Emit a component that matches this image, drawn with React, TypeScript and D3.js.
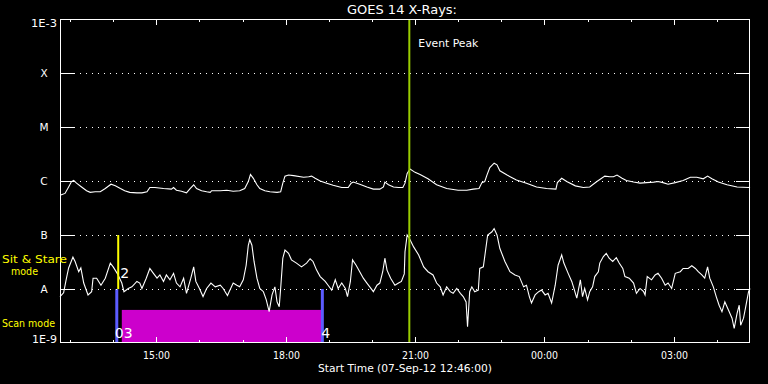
import React from 'react';
import * as d3 from 'd3';

// ---- data ----
const START_UTC = Date.UTC(2012, 8, 7, 12, 46);
const SPAN_MINUTES = 960;

const classLabels = ['1E-3', 'X', 'M', 'C', 'B', 'A', '1E-9'];
const classFlux = [1e-3, 1e-4, 1e-5, 1e-6, 1e-7, 1e-8, 1e-9];

// long channel (1-8 A), minutes since start, log10 flux
const longTimes = [1, 7, 12, 16, 19, 23, 30, 37, 42, 49, 56, 63, 71, 77, 84, 90, 97, 107, 114, 121, 125, 132, 144, 155, 158, 162, 169, 176, 181, 186, 190, 197, 204, 209, 211, 223, 232, 241, 250, 257, 262, 265, 269, 274, 278, 285, 292, 302, 307, 310, 313, 318, 325, 339, 346, 350, 355, 362, 371, 380, 392, 401, 405, 408, 417, 427, 436, 445, 450, 452, 457, 464, 471, 477, 480, 483, 487, 494, 501, 512, 524, 538, 554, 566, 575, 583, 587, 591, 594, 598, 604, 608, 612, 622, 635, 649, 663, 677, 690, 692, 698, 705, 717, 728, 737, 747, 758, 765, 770, 775, 782, 788, 798, 807, 816, 826, 832, 839, 846, 856, 867, 877, 886, 895, 901, 907, 916, 928, 942, 958, 960];
const longLogFlux = [-6.26, -6.23, -6.11, -6.01, -5.99, -6.04, -6.11, -6.18, -6.21, -6.2, -6.2, -6.14, -6.06, -6.09, -6.14, -6.18, -6.21, -6.22, -6.22, -6.2, -6.12, -6.12, -6.14, -6.15, -6.12, -6.17, -6.19, -6.22, -6.14, -6.07, -6.14, -6.18, -6.2, -6.21, -6.18, -6.18, -6.17, -6.19, -6.18, -6.14, -6.01, -5.88, -5.95, -6.07, -6.14, -6.18, -6.2, -6.21, -6.2, -6.04, -5.91, -5.89, -5.9, -5.93, -5.92, -5.91, -5.95, -6.0, -6.04, -6.08, -6.12, -6.12, -6.04, -6.02, -6.06, -6.11, -6.15, -6.15, -6.11, -6.02, -6.07, -6.11, -6.12, -6.12, -6.04, -5.86, -5.78, -5.84, -5.88, -5.96, -6.07, -6.14, -6.17, -6.17, -6.15, -6.14, -6.03, -6.01, -5.89, -5.75, -5.67, -5.7, -5.81, -5.89, -5.98, -6.04, -6.11, -6.14, -6.15, -6.03, -5.95, -6.01, -6.09, -6.12, -6.11, -6.01, -5.91, -5.92, -5.92, -5.89, -5.95, -5.99, -6.02, -6.04, -6.03, -6.02, -6.01, -6.03, -6.06, -6.03, -5.99, -5.93, -5.93, -5.96, -5.91, -5.96, -6.02, -6.07, -6.11, -6.12, -6.11];

// short channel (0.5-4 A), minutes since start, log10 flux
const shortTimes = [0, 5, 9, 12, 18, 21, 26, 29, 33, 39, 44, 46, 51, 57, 63, 70, 74, 80, 86, 89, 95, 100, 107, 111, 114, 120, 125, 130, 135, 139, 144, 148, 153, 158, 162, 167, 172, 176, 182, 186, 189, 194, 199, 204, 210, 216, 223, 227, 233, 235, 241, 246, 250, 255, 259, 262, 264, 267, 270, 274, 278, 283, 287, 291, 295, 299, 302, 305, 307, 310, 313, 318, 322, 329, 336, 343, 348, 352, 357, 362, 369, 373, 378, 383, 387, 392, 397, 400, 404, 407, 412, 417, 422, 427, 431, 436, 441, 445, 449, 452, 455, 460, 466, 471, 475, 479, 480, 483, 486, 492, 499, 506, 512, 519, 524, 529, 533, 538, 543, 547, 552, 557, 561, 565, 567, 570, 573, 577, 582, 584, 589, 595, 601, 604, 608, 612, 619, 626, 633, 639, 645, 649, 653, 656, 661, 666, 670, 675, 679, 684, 689, 693, 698, 701, 707, 712, 715, 719, 724, 727, 730, 734, 737, 741, 744, 749, 751, 756, 760, 764, 769, 774, 778, 783, 786, 792, 798, 802, 807, 812, 814, 817, 823, 828, 832, 837, 842, 846, 851, 856, 863, 867, 874, 879, 884, 888, 893, 897, 901, 904, 909, 913, 917, 921, 925, 930, 935, 938, 942, 945, 947, 951, 954, 958, 960];
const shortLogFlux = [-8.14, -8.07, -7.8, -7.61, -7.41, -7.49, -7.68, -7.61, -7.89, -8.11, -8.05, -7.8, -7.8, -7.93, -7.8, -7.52, -7.59, -7.72, -7.89, -8.05, -7.99, -7.96, -7.86, -7.89, -7.99, -7.8, -7.62, -7.71, -7.8, -7.74, -7.86, -7.74, -7.83, -7.71, -7.89, -7.96, -7.8, -8.08, -7.8, -7.59, -7.86, -7.99, -8.14, -7.99, -7.89, -7.96, -7.93, -7.99, -8.12, -8.06, -7.89, -7.93, -7.96, -7.83, -7.56, -7.19, -7.09, -7.19, -7.49, -7.8, -7.99, -8.05, -8.2, -8.42, -8.11, -7.96, -8.24, -8.33, -7.99, -7.43, -7.28, -7.34, -7.46, -7.52, -7.59, -7.52, -7.44, -7.49, -7.65, -7.77, -7.86, -7.93, -8.02, -7.83, -7.99, -7.89, -7.99, -8.14, -7.86, -7.46, -7.56, -7.68, -7.8, -7.89, -7.96, -8.05, -7.93, -7.89, -7.68, -7.43, -7.65, -7.8, -7.93, -7.89, -7.86, -7.72, -7.31, -7.0, -7.06, -7.22, -7.37, -7.59, -7.68, -7.74, -7.89, -7.96, -8.11, -7.96, -8.05, -8.08, -7.99, -8.08, -8.14, -8.24, -8.7, -8.05, -7.96, -8.05, -8.02, -7.62, -7.59, -7.0, -6.94, -6.88, -7.0, -7.25, -7.49, -7.68, -7.74, -7.77, -7.96, -7.93, -8.14, -8.26, -8.11, -8.05, -8.02, -8.11, -8.08, -8.26, -7.93, -7.56, -7.37, -7.52, -7.71, -7.86, -7.99, -8.17, -7.83, -8.14, -7.99, -8.2, -8.05, -7.96, -7.77, -7.68, -7.52, -7.4, -7.34, -7.43, -7.49, -7.42, -7.52, -7.62, -7.77, -7.8, -7.89, -8.08, -7.99, -8.05, -8.11, -7.77, -7.83, -7.74, -7.71, -7.8, -7.93, -7.89, -7.99, -7.71, -7.68, -7.62, -7.62, -7.57, -7.62, -7.68, -7.74, -7.8, -7.59, -7.8, -7.96, -8.14, -8.3, -8.42, -8.24, -8.39, -8.54, -8.73, -8.45, -8.3, -8.67, -8.54, -8.33, -8.05, -7.99];

// annotation times (minutes since start)
const eventPeakMinute = 486;
const sitStareMinute = 81;
const scanLineMinutes = [79, 365];
const scanFillMinutes = [86, 364];
const scanFillTopFlux = 4.1e-9;
const scanLabels = ['03', '4'];

// ---- layout ----
const W = 768;
const H = 384;
const L = 60;
const R = 750;
const T = 19;
const B = 343;
const FONT = 'DejaVu Sans, sans-serif';

const toDate = (m: number) => new Date(START_UTC + m * 60000);

export default function App() {
  const x = d3.scaleUtc().domain([toDate(0), toDate(SPAN_MINUTES)]).range([L, R]);
  const y = d3.scaleLog().domain([1e-9, 1e-3]).range([B, T]);

  const longData = longTimes.map((t, i) => ({ t: toDate(t), v: Math.pow(10, longLogFlux[i]) }));
  const shortData = shortTimes.map((t, i) => ({ t: toDate(t), v: Math.pow(10, shortLogFlux[i]) }));
  const line = d3
    .line<{ t: Date; v: number }>()
    .x((d) => x(d.t))
    .y((d) => y(d.v));

  const hourTicks = x.ticks(d3.utcHour.every(1) as any);
  const fmt = d3.utcFormat('%H:%M');

  const gridFlux = classFlux.slice(1, -1);
  const fit = { lengthAdjust: 'spacingAndGlyphs' as const };

  return (
    <svg width={W} height={H} style={{ position: 'fixed', left: 0, top: 0, display: 'block' }}>
      <rect x={0} y={0} width={W} height={H} fill="#000" />
      <text x={347} y={14} fill="#fff" fontFamily={FONT} fontSize={12} textLength={110} {...fit}>
        GOES 14 X-Rays:
      </text>

      {/* scan mode fill */}
      <rect
        x={x(toDate(scanFillMinutes[0]))}
        y={y(scanFillTopFlux)}
        width={x(toDate(scanFillMinutes[1])) - x(toDate(scanFillMinutes[0]))}
        height={B - y(scanFillTopFlux)}
        fill="#cc00cc"
      />
      {scanLineMinutes.map((m, i) => (
        <line key={'sl' + i} x1={x(toDate(m))} x2={x(toDate(m))} y1={y(1e-8)} y2={B} stroke="#5c5cff" strokeWidth={3} />
      ))}

      {/* grid lines */}
      {gridFlux.map((f, i) => (
        <g key={'g' + i}>
          <line x1={L + 14} x2={R - 14} y1={y(f) + 0.5} y2={y(f) + 0.5} stroke="#fff" strokeWidth={1} strokeDasharray="1,5" />
          <line x1={L} x2={L + 14} y1={y(f) + 0.5} y2={y(f) + 0.5} stroke="#fff" strokeWidth={1} />
          <line x1={R - 14} x2={R} y1={y(f) + 0.5} y2={y(f) + 0.5} stroke="#fff" strokeWidth={1} />
        </g>
      ))}

      {/* curves */}
      <path d={line(longData) || ''} fill="none" stroke="#fff" strokeWidth={1.1} />
      <path d={line(shortData) || ''} fill="none" stroke="#fff" strokeWidth={1.1} />

      {/* sit & stare line */}
      <line x1={x(toDate(sitStareMinute))} x2={x(toDate(sitStareMinute))} y1={y(1e-7)} y2={y(1e-8)} stroke="#ffff00" strokeWidth={2} />
      {/* event peak */}
      <line x1={x(toDate(eventPeakMinute))} x2={x(toDate(eventPeakMinute))} y1={T} y2={B} stroke="#99cc00" strokeWidth={2} />
      <text x={x(toDate(eventPeakMinute)) + 9} y={47} fill="#fff" fontFamily={FONT} fontSize={11} textLength={60} {...fit}>
        Event Peak
      </text>

      {/* frame */}
      <rect x={L + 0.5} y={T + 0.5} width={R - L - 1} height={B - T - 1} fill="none" stroke="#fff" strokeWidth={1} />

      {/* time ticks */}
      {hourTicks.map((d, i) => {
        const major = d.getUTCHours() % 3 === 0;
        const len = major ? 6 : 3;
        const px = Math.round(x(d)) + 0.5;
        return (
          <g key={'t' + i}>
            <line x1={px} x2={px} y1={T} y2={T + len} stroke="#fff" />
            <line x1={px} x2={px} y1={B} y2={B - len} stroke="#fff" />
            {major && (
              <text x={px - 13.5} y={359} fill="#fff" fontFamily={FONT} fontSize={10} textLength={27} {...fit}>
                {fmt(d)}
              </text>
            )}
          </g>
        );
      })}

      {/* y labels */}
      {classLabels.map((lab, i) => {
        const py = y(classFlux[i]);
        if (i === 0)
          return (
            <text key={'yl' + i} x={31} y={py + 8} fill="#fff" fontFamily={FONT} fontSize={10.5} textLength={26} {...fit}>
              {lab}
            </text>
          );
        if (i === classLabels.length - 1)
          return (
            <text key={'yl' + i} x={32} y={py} fill="#fff" fontFamily={FONT} fontSize={10.5} textLength={25} {...fit}>
              {lab}
            </text>
          );
        return (
          <text key={'yl' + i} x={44} y={py + 4} fill="#fff" fontFamily={FONT} fontSize={10.5} textAnchor="middle">
            {lab}
          </text>
        );
      })}

      {/* mode labels */}
      <text x={2} y={263} fill="#ffff00" fontFamily={FONT} fontSize={11} textLength={65} {...fit}>
        Sit &amp; Stare
      </text>
      <text x={11} y={275} fill="#ffff00" fontFamily={FONT} fontSize={11} textLength={27} {...fit}>
        mode
      </text>
      <text x={2} y={327} fill="#ffff00" fontFamily={FONT} fontSize={11} textLength={53} {...fit}>
        Scan mode
      </text>

      {/* mode numbers */}
      <text x={x(toDate(sitStareMinute)) + 2} y={278} fill="#fff" fontFamily={FONT} fontSize={14}>
        2
      </text>
      <text x={x(toDate(scanLineMinutes[0])) - 2} y={338} fill="#fff" fontFamily={FONT} fontSize={14}>
        {scanLabels[0]}
      </text>
      <text x={x(toDate(scanLineMinutes[1])) - 1} y={338} fill="#fff" fontFamily={FONT} fontSize={14}>
        {scanLabels[1]}
      </text>

      <text x={318} y={372} fill="#fff" fontFamily={FONT} fontSize={10} textLength={174} {...fit}>
        Start Time (07-Sep-12 12:46:00)
      </text>
    </svg>
  );
}
